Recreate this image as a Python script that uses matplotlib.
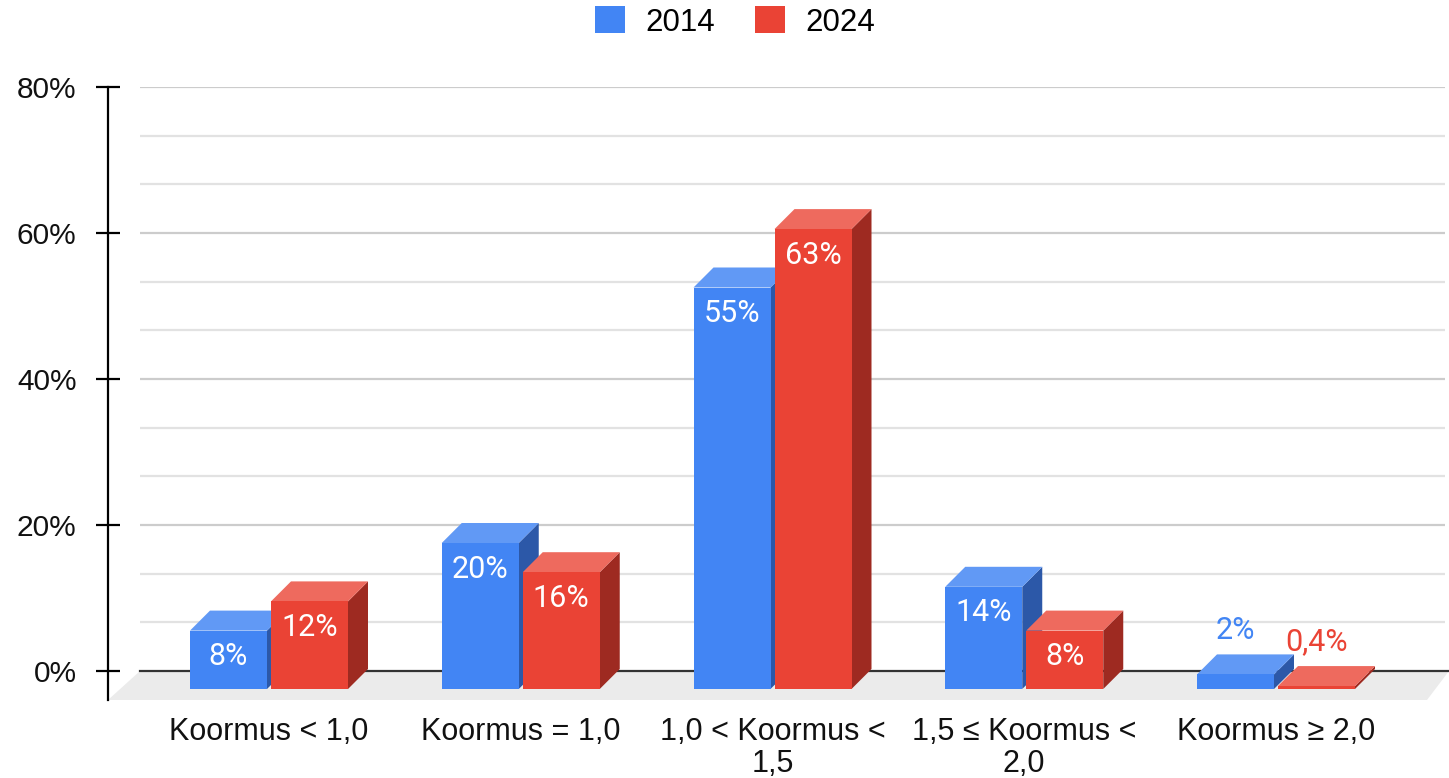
import numpy as np
import matplotlib.pyplot as plt
from matplotlib.patches import Polygon, Patch

plt.rcParams['font.family'] = ['Liberation Sans', 'DejaVu Sans']

categories = ["Koormus < 1,0", "Koormus = 1,0", "1,0 < Koormus <\n1,5",
              "1,5 ≤ Koormus <\n2,0", "Koormus ≥ 2,0"]
series_names = ["2014", "2024"]
vals_2014 = [8, 20, 55, 14, 2]
vals_2024 = [12, 16, 63, 8, 0.4]

# colours: front, top, side
cols = {
    "2014": ("#4285F4", "#6199F5", "#2C58A8"),
    "2024": ("#EA4335", "#EE6A5E", "#9E2A21"),
}
label_cols = {"2014": "#4285F4", "2024": "#EA4335"}

W, H = 1449, 778
fig = plt.figure(figsize=(W / 100, H / 100), dpi=100)

# pixel scale of the chart
PX_X = 251.75   # px per category
PX_Y = 7.3      # px per percent
x0_px = 269     # first category centre (front)
y0_px = 671     # 0% on back plane
ax_left, ax_right, ax_top, ax_bot = 108, 1449, 87, 705

ax = fig.add_axes([ax_left / W, (H - ax_bot) / H,
                   (ax_right - ax_left) / W, (ax_bot - ax_top) / H])
ax.set_xlim((ax_left - x0_px) / PX_X, (ax_right - x0_px) / PX_X)
ax.set_ylim((y0_px - ax_bot) / PX_Y, 80)

dx = 20 / PX_X
dy = 20 / PX_Y
drop = 18 / PX_Y
bw = 77 / PX_X
offs = [-40.5 / PX_X, 40.5 / PX_X]
grid_x0 = (140 - x0_px) / PX_X
grid_x1 = (1445 - x0_px) / PX_X

# floor
floor_y = -29 / PX_Y
floor = Polygon([(grid_x0, 0), ((1449 - x0_px) / PX_X, 0),
                 ((1427 - x0_px) / PX_X, floor_y), ((ax_left - x0_px) / PX_X, floor_y)],
                closed=True, facecolor="#EBEBEB", edgecolor="none", zorder=1)
ax.add_patch(floor)

# gridlines on back wall
for g in np.arange(20 / 3, 80.01, 20 / 3):
    major = abs(g / 20 - round(g / 20)) < 1e-6
    ax.plot([grid_x0, grid_x1], [g, g], color="#CCCCCC" if major else "#E2E2E2",
            lw=1.6, zorder=1.5, solid_capstyle="butt")
ax.plot([grid_x0, (1449 - x0_px) / PX_X], [0, 0], color="#333333", lw=1.6, zorder=1.6)

# 3d bars
xs = np.arange(len(categories))
for i in xs:
    for k, (name, vals) in enumerate(zip(series_names, [vals_2014, vals_2024])):
        front, topc, side = cols[name]
        v = vals[i]
        xl = i + offs[k] - bw / 2
        xr = i + offs[k] + bw / 2
        yb = -drop
        yt = v - drop
        z = 2 + i * 3 + k * 1.5
        ax.add_patch(Polygon([(xr, yb), (xr, yt), (xr + dx, yt + dy), (xr + dx, yb + dy)],
                             closed=True, facecolor=side, edgecolor="none", zorder=z))
        ax.add_patch(Polygon([(xl, yt), (xl + dx, yt + dy), (xr + dx, yt + dy), (xr, yt)],
                             closed=True, facecolor=topc, edgecolor="none", zorder=z + 0.1))
        ax.bar(i + offs[k], v, bottom=yb, width=bw, color=front, zorder=z + 0.2)
        txt = (f"{v:.0f}%" if float(v).is_integer() else f"{v:.1f}%".replace(".", ","))
        if v >= 5:
            ax.text(i + offs[k], yt - 26 / PX_Y, txt, ha="center", va="center",
                    color="white", fontsize=22, family=["Roboto", "DejaVu Sans"],
                    zorder=z + 0.3)
        else:
            ax.text(i + offs[k], yt + 44 / PX_Y, txt, ha="center", va="center",
                    color=label_cols[name], fontsize=22, family=["Roboto", "DejaVu Sans"],
                    zorder=z + 0.3)

# axes styling
for s in ["top", "right", "bottom"]:
    ax.spines[s].set_visible(False)
ax.spines["left"].set_linewidth(1.6)
ax.spines["left"].set_bounds(floor_y, 80)
ax.set_yticks([0, 20, 40, 60, 80])
ax.set_yticklabels([f"{t}%" for t in [0, 20, 40, 60, 80]], fontsize=21.5, color="#111111")
ax.tick_params(axis="y", direction="inout", length=17, width=1.6, pad=14)
ax.set_xticks(xs)
ax.set_xticklabels(categories, fontsize=22, color="#111111", linespacing=1.05)
ax.tick_params(axis="x", length=0, pad=9)
ax.patch.set_alpha(0)

handles = [Patch(facecolor=cols[n][0], edgecolor="none") for n in series_names]
fig.legend(handles, series_names, loc="center", bbox_to_anchor=(735 / W, 1 - 22 / H),
           ncol=2, frameon=False, fontsize=22.5, handlelength=0.95, handleheight=0.95,
           handletextpad=0.65, columnspacing=1.3)

fig.savefig("out.png", dpi=100)
